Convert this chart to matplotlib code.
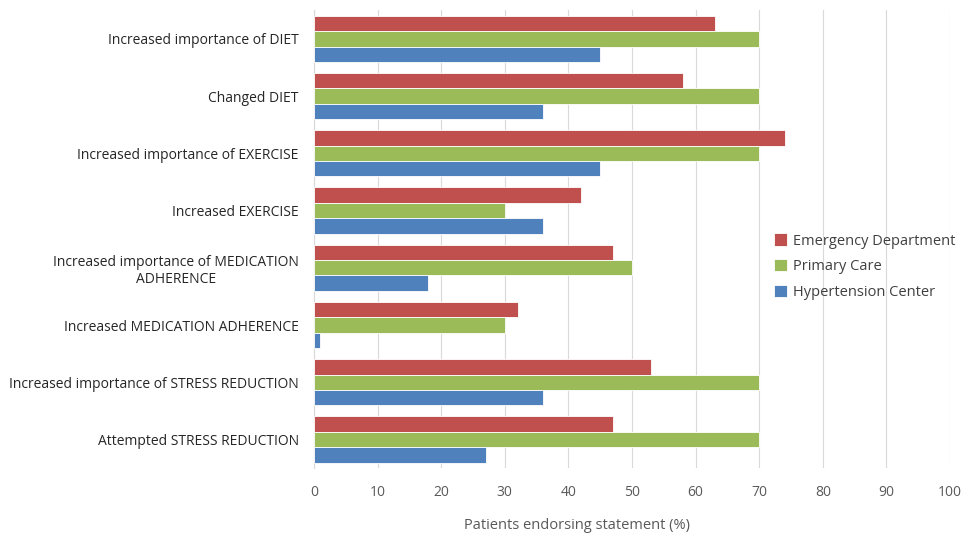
import matplotlib.pyplot as plt
import numpy as np

plt.rcParams['font.family'] = ['Open Sans', 'DejaVu Sans']

statements = ['Increased importance of DIET', 'Changed DIET',
              'Increased importance of EXERCISE', 'Increased EXERCISE',
              'Increased importance of MEDICATION\nADHERENCE',
              'Increased MEDICATION ADHERENCE',
              'Increased importance of STRESS REDUCTION',
              'Attempted STRESS REDUCTION']
emergency = [63, 58, 74, 42, 47, 32, 53, 47]
primary = [70, 70, 70, 30, 50, 30, 70, 70]
hypertension = [45, 36, 45, 36, 18, 1, 36, 27]

fig = plt.figure(figsize=(9.68, 5.35), dpi=100)
ax = fig.add_axes([0.3244, 0.125, 0.657, 0.856])

y = np.arange(len(statements))
h = 0.27
ax.barh(y - h, emergency, height=h, color='#C0504D', edgecolor='white', linewidth=0.6, label='Emergency Department', zorder=3)
ax.barh(y, primary, height=h, color='#9BBB59', edgecolor='white', linewidth=0.6, label='Primary Care', zorder=3)
ax.barh(y + h, hypertension, height=h, color='#4F81BD', edgecolor='white', linewidth=0.6, label='Hypertension Center', zorder=3)

ax.set_ylim(len(statements) - 0.5, -0.5)
ax.set_xlim(0, 100)
ax.set_xticks(np.arange(0, 101, 10))
ax.set_yticks(y)
ax.set_yticklabels(statements, multialignment='center', color='#262626', fontsize=10)
ax.tick_params(axis='x', colors='#595959', labelsize=10, length=0, pad=12)
ax.tick_params(axis='y', length=0, pad=11)
ax.grid(axis='x', color='#D9D9D9', linewidth=0.8, zorder=0)
for s in ['top', 'right', 'bottom']:
    ax.spines[s].set_visible(False)
ax.spines['left'].set_color('#D9D9D9')

ax.set_xlabel('Patients endorsing statement (%)', color='#595959', fontsize=10.5, labelpad=12)
ax.xaxis.set_label_coords(0.414, -0.108)

ax.legend(loc='center left', bbox_to_anchor=(0.702, 0.44), frameon=False,
          fontsize=10.5, labelcolor='#404040', handlelength=0.9, handleheight=0.9,
          handletextpad=0.4, labelspacing=0.72)

fig.savefig('out.png', dpi=100)
